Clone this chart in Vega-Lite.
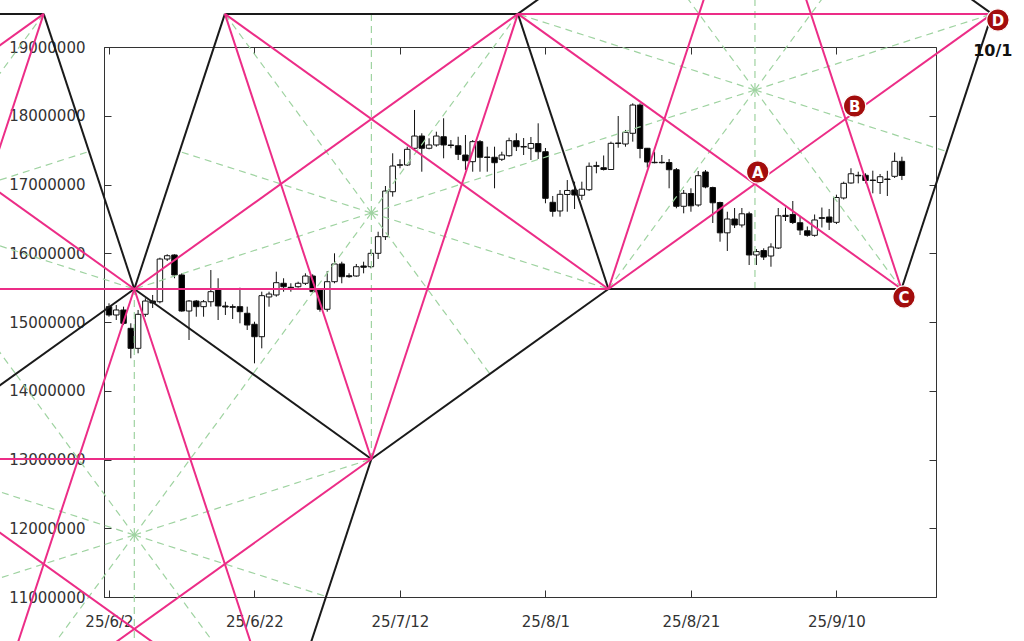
{
  "$schema": "https://vega.github.io/schema/vega-lite/v6.json",
  "width": 832,
  "height": 550,
  "autosize": "none",
  "padding": {"left": 104, "top": 47, "right": 88, "bottom": 44},
  "background": "white",
  "config": {
    "view": {"stroke": "#333333", "strokeWidth": 1},
    "axis": {"grid": false, "domainColor": "#333333", "tickColor": "#333333", "labelColor": "#333333", "labelFont": "DejaVu Sans", "labelFontSize": 15, "title": null}
  },
  "datasets": {
    "candles": [
      {"d":"2025-06-02","o":15223000,"h":15272000,"l":15077000,"c":15102000},
      {"d":"2025-06-03","o":15102000,"h":15247000,"l":15029000,"c":15175000},
      {"d":"2025-06-04","o":15175000,"h":15223000,"l":14956000,"c":14981000},
      {"d":"2025-06-05","o":14908000,"h":14981000,"l":14472000,"c":14617000},
      {"d":"2025-06-06","o":14617000,"h":15175000,"l":14545000,"c":15112000},
      {"d":"2025-06-07","o":15112000,"h":15345000,"l":15077000,"c":15305000},
      {"d":"2025-06-08","o":15305000,"h":15393000,"l":15204000,"c":15276000},
      {"d":"2025-06-09","o":15295000,"h":15935000,"l":15272000,"c":15916000},
      {"d":"2025-06-10","o":15916000,"h":15985000,"l":15887000,"c":15964000},
      {"d":"2025-06-11","o":15975000,"h":15985000,"l":15636000,"c":15684000},
      {"d":"2025-06-12","o":15684000,"h":15708000,"l":15150000,"c":15160000},
      {"d":"2025-06-13","o":15160000,"h":15320000,"l":14738000,"c":15305000},
      {"d":"2025-06-14","o":15305000,"h":15320000,"l":15077000,"c":15223000},
      {"d":"2025-06-15","o":15223000,"h":15320000,"l":15077000,"c":15295000},
      {"d":"2025-06-16","o":15295000,"h":15756000,"l":15223000,"c":15441000},
      {"d":"2025-06-17","o":15476000,"h":15636000,"l":15029000,"c":15233000},
      {"d":"2025-06-18","o":15233000,"h":15295000,"l":15102000,"c":15218000},
      {"d":"2025-06-19","o":15223000,"h":15257000,"l":15044000,"c":15214000},
      {"d":"2025-06-20","o":15223000,"h":15499000,"l":14981000,"c":15150000},
      {"d":"2025-06-21","o":15127000,"h":15223000,"l":14884000,"c":14956000},
      {"d":"2025-06-22","o":14967000,"h":15004000,"l":14399000,"c":14786000},
      {"d":"2025-06-23","o":14786000,"h":15441000,"l":14617000,"c":15383000},
      {"d":"2025-06-24","o":15364000,"h":15441000,"l":15223000,"c":15407000},
      {"d":"2025-06-25","o":15393000,"h":15732000,"l":15368000,"c":15572000},
      {"d":"2025-06-26","o":15563000,"h":15636000,"l":15441000,"c":15513000},
      {"d":"2025-06-27","o":15505000,"h":15563000,"l":15441000,"c":15495000},
      {"d":"2025-06-28","o":15513000,"h":15586000,"l":15499000,"c":15563000},
      {"d":"2025-06-29","o":15563000,"h":15708000,"l":15538000,"c":15669000},
      {"d":"2025-06-30","o":15669000,"h":15694000,"l":15426000,"c":15441000},
      {"d":"2025-07-01","o":15465000,"h":15490000,"l":15150000,"c":15185000},
      {"d":"2025-07-02","o":15185000,"h":15742000,"l":15150000,"c":15586000},
      {"d":"2025-07-03","o":15586000,"h":15999000,"l":15563000,"c":15844000},
      {"d":"2025-07-04","o":15844000,"h":15877000,"l":15563000,"c":15659000},
      {"d":"2025-07-05","o":15673000,"h":15708000,"l":15644000,"c":15659000},
      {"d":"2025-07-06","o":15669000,"h":15844000,"l":15659000,"c":15804000},
      {"d":"2025-07-07","o":15815000,"h":15877000,"l":15708000,"c":15796000},
      {"d":"2025-07-08","o":15804000,"h":16057000,"l":15781000,"c":15999000},
      {"d":"2025-07-09","o":15999000,"h":16313000,"l":15916000,"c":16241000},
      {"d":"2025-07-10","o":16241000,"h":16978000,"l":16193000,"c":16905000},
      {"d":"2025-07-11","o":16895000,"h":17454000,"l":16823000,"c":17269000},
      {"d":"2025-07-12","o":17279000,"h":17367000,"l":17236000,"c":17288000},
      {"d":"2025-07-13","o":17284000,"h":17550000,"l":17269000,"c":17512000},
      {"d":"2025-07-14","o":17527000,"h":18084000,"l":17512000,"c":17705000},
      {"d":"2025-07-15","o":17705000,"h":17745000,"l":17186000,"c":17527000},
      {"d":"2025-07-16","o":17527000,"h":17672000,"l":17512000,"c":17575000},
      {"d":"2025-07-17","o":17575000,"h":17768000,"l":17550000,"c":17705000},
      {"d":"2025-07-18","o":17695000,"h":17963000,"l":17381000,"c":17575000},
      {"d":"2025-07-19","o":17575000,"h":17647000,"l":17527000,"c":17567000},
      {"d":"2025-07-20","o":17564000,"h":17695000,"l":17356000,"c":17439000},
      {"d":"2025-07-21","o":17429000,"h":17720000,"l":17211000,"c":17346000},
      {"d":"2025-07-22","o":17332000,"h":17647000,"l":17186000,"c":17623000},
      {"d":"2025-07-23","o":17623000,"h":17647000,"l":17186000,"c":17396000},
      {"d":"2025-07-24","o":17400000,"h":17550000,"l":17186000,"c":17393000},
      {"d":"2025-07-25","o":17396000,"h":17550000,"l":16945000,"c":17317000},
      {"d":"2025-07-26","o":17367000,"h":17477000,"l":17342000,"c":17429000},
      {"d":"2025-07-27","o":17419000,"h":17681000,"l":17404000,"c":17637000},
      {"d":"2025-07-28","o":17637000,"h":17745000,"l":17487000,"c":17550000},
      {"d":"2025-07-29","o":17553000,"h":17676000,"l":17429000,"c":17545000},
      {"d":"2025-07-30","o":17527000,"h":17691000,"l":17356000,"c":17596000},
      {"d":"2025-07-31","o":17596000,"h":17890000,"l":17371000,"c":17477000},
      {"d":"2025-08-01","o":17477000,"h":17531000,"l":16727000,"c":16799000},
      {"d":"2025-08-02","o":16741000,"h":16833000,"l":16532000,"c":16610000},
      {"d":"2025-08-03","o":16615000,"h":16920000,"l":16532000,"c":16857000},
      {"d":"2025-08-04","o":16855000,"h":17065000,"l":16604000,"c":16913000},
      {"d":"2025-08-05","o":16920000,"h":17041000,"l":16644000,"c":16847000},
      {"d":"2025-08-06","o":16843000,"h":17041000,"l":16775000,"c":16932000},
      {"d":"2025-08-07","o":16924000,"h":17320000,"l":16905000,"c":17265000},
      {"d":"2025-08-08","o":17273000,"h":17332000,"l":17163000,"c":17265000},
      {"d":"2025-08-09","o":17244000,"h":17422000,"l":17204000,"c":17218000},
      {"d":"2025-08-10","o":17218000,"h":17623000,"l":17211000,"c":17599000},
      {"d":"2025-08-11","o":17604000,"h":17996000,"l":17535000,"c":17596000},
      {"d":"2025-08-12","o":17589000,"h":17793000,"l":17550000,"c":17759000},
      {"d":"2025-08-13","o":17745000,"h":18181000,"l":17623000,"c":18156000},
      {"d":"2025-08-14","o":18156000,"h":18181000,"l":17381000,"c":17524000},
      {"d":"2025-08-15","o":17527000,"h":17531000,"l":17247000,"c":17327000},
      {"d":"2025-08-16","o":17323000,"h":17477000,"l":17308000,"c":17317000},
      {"d":"2025-08-17","o":17323000,"h":17429000,"l":17305000,"c":17317000},
      {"d":"2025-08-18","o":17320000,"h":17371000,"l":16945000,"c":17215000},
      {"d":"2025-08-19","o":17215000,"h":17240000,"l":16654000,"c":16683000},
      {"d":"2025-08-20","o":16683000,"h":16920000,"l":16581000,"c":16872000},
      {"d":"2025-08-21","o":16869000,"h":16945000,"l":16604000,"c":16690000},
      {"d":"2025-08-22","o":16702000,"h":17196000,"l":16677000,"c":17128000},
      {"d":"2025-08-23","o":17182000,"h":17211000,"l":16945000,"c":16964000},
      {"d":"2025-08-24","o":16956000,"h":16968000,"l":16440000,"c":16734000},
      {"d":"2025-08-25","o":16738000,"h":16750000,"l":16168000,"c":16297000},
      {"d":"2025-08-26","o":16297000,"h":16604000,"l":16033000,"c":16498000},
      {"d":"2025-08-27","o":16498000,"h":16658000,"l":16367000,"c":16411000},
      {"d":"2025-08-28","o":16411000,"h":16658000,"l":16375000,"c":16574000},
      {"d":"2025-08-29","o":16574000,"h":16604000,"l":15829000,"c":15975000},
      {"d":"2025-08-30","o":15975000,"h":16062000,"l":15829000,"c":16025000},
      {"d":"2025-08-31","o":16040000,"h":16072000,"l":15902000,"c":15945000},
      {"d":"2025-09-01","o":15960000,"h":16145000,"l":15804000,"c":16091000},
      {"d":"2025-09-02","o":16076000,"h":16658000,"l":16062000,"c":16545000},
      {"d":"2025-09-03","o":16552000,"h":16665000,"l":16469000,"c":16535000},
      {"d":"2025-09-04","o":16564000,"h":16760000,"l":16425000,"c":16447000},
      {"d":"2025-09-05","o":16444000,"h":16532000,"l":16265000,"c":16338000},
      {"d":"2025-09-06","o":16327000,"h":16389000,"l":16241000,"c":16261000},
      {"d":"2025-09-07","o":16261000,"h":16564000,"l":16241000,"c":16484000},
      {"d":"2025-09-08","o":16517000,"h":16665000,"l":16375000,"c":16508000},
      {"d":"2025-09-09","o":16527000,"h":16644000,"l":16338000,"c":16452000},
      {"d":"2025-09-10","o":16450000,"h":16852000,"l":16425000,"c":16811000},
      {"d":"2025-09-11","o":16804000,"h":17041000,"l":16782000,"c":17017000},
      {"d":"2025-09-12","o":17022000,"h":17236000,"l":17012000,"c":17156000},
      {"d":"2025-09-13","o":17134000,"h":17186000,"l":17017000,"c":17127000},
      {"d":"2025-09-14","o":17134000,"h":17163000,"l":17017000,"c":17058000},
      {"d":"2025-09-15","o":17065000,"h":17201000,"l":16872000,"c":17058000},
      {"d":"2025-09-16","o":17029000,"h":17153000,"l":16862000,"c":17113000},
      {"d":"2025-09-17","o":17080000,"h":17199000,"l":16833000,"c":17073000},
      {"d":"2025-09-18","o":17119000,"h":17465000,"l":17095000,"c":17337000},
      {"d":"2025-09-19","o":17337000,"h":17404000,"l":17065000,"c":17131000}
    ],
    "segs": [
      {"k":"e","x1":"2025-04-13T17:46Z","y1":19481000,"x2":"2025-05-24T00:29Z","y2":19481000},
      {"k":"e","x1":"2025-05-24T00:29Z","y1":19481000,"x2":"2025-06-05T11:31Z","y2":15480000},
      {"k":"e","x1":"2025-06-05T11:31Z","y1":15480000,"x2":"2025-05-03T21:07Z","y2":13008000},
      {"k":"e","x1":"2025-05-03T21:07Z","y1":13008000,"x2":"2025-04-01T06:58Z","y2":15480000},
      {"k":"e","x1":"2025-04-01T06:58Z","y1":15480000,"x2":"2025-04-13T17:46Z","y2":19481000},
      {"k":"e","x1":"2025-06-17T22:19Z","y1":19481000,"x2":"2025-07-28T05:02Z","y2":19481000},
      {"k":"e","x1":"2025-07-28T05:02Z","y1":19481000,"x2":"2025-08-09T15:50Z","y2":15480000},
      {"k":"e","x1":"2025-08-09T15:50Z","y1":15480000,"x2":"2025-07-08T01:41Z","y2":13008000},
      {"k":"e","x1":"2025-07-08T01:41Z","y1":13008000,"x2":"2025-06-05T11:31Z","y2":15480000},
      {"k":"e","x1":"2025-06-05T11:31Z","y1":15480000,"x2":"2025-06-17T22:19Z","y2":19481000},
      {"k":"e","x1":"2025-08-29T19:12Z","y1":21953000,"x2":"2025-10-01T09:22Z","y2":19481000},
      {"k":"e","x1":"2025-10-01T09:22Z","y1":19481000,"x2":"2025-09-18T22:34Z","y2":15480000},
      {"k":"e","x1":"2025-09-18T22:34Z","y1":15480000,"x2":"2025-08-09T15:50Z","y2":15480000},
      {"k":"e","x1":"2025-07-28T05:02Z","y1":19481000,"x2":"2025-08-29T19:12Z","y2":21953000},
      {"k":"e","x1":"2025-07-08T01:41Z","y1":13008000,"x2":"2025-06-25T14:53Z","y2":9007000},
      {"k":"e","x1":"2025-06-25T14:53Z","y1":9007000,"x2":"2025-05-16T08:10Z","y2":9007000},
      {"k":"e","x1":"2025-05-16T08:10Z","y1":9007000,"x2":"2025-05-03T21:07Z","y2":13008000},

      {"k":"d","x1":"2025-04-13T17:46Z","y1":19481000,"x2":"2025-06-05T11:31Z","y2":15480000},
      {"k":"d","x1":"2025-04-13T17:46Z","y1":19481000,"x2":"2025-05-03T21:07Z","y2":13008000},
      {"k":"d","x1":"2025-05-24T00:29Z","y1":19481000,"x2":"2025-05-03T21:07Z","y2":13008000},
      {"k":"d","x1":"2025-05-24T00:29Z","y1":19481000,"x2":"2025-04-01T06:58Z","y2":15480000},
      {"k":"d","x1":"2025-04-01T06:58Z","y1":15480000,"x2":"2025-06-05T11:31Z","y2":15480000},
      {"k":"d","x1":"2025-06-17T22:19Z","y1":19481000,"x2":"2025-08-09T15:50Z","y2":15480000},
      {"k":"d","x1":"2025-06-17T22:19Z","y1":19481000,"x2":"2025-07-08T01:41Z","y2":13008000},
      {"k":"d","x1":"2025-07-28T05:02Z","y1":19481000,"x2":"2025-07-08T01:41Z","y2":13008000},
      {"k":"d","x1":"2025-07-28T05:02Z","y1":19481000,"x2":"2025-06-05T11:31Z","y2":15480000},
      {"k":"d","x1":"2025-06-05T11:31Z","y1":15480000,"x2":"2025-08-09T15:50Z","y2":15480000},
      {"k":"d","x1":"2025-08-29T19:12Z","y1":21953000,"x2":"2025-08-09T15:50Z","y2":15480000},
      {"k":"d","x1":"2025-08-29T19:12Z","y1":21953000,"x2":"2025-09-18T22:34Z","y2":15480000},
      {"k":"d","x1":"2025-07-28T05:02Z","y1":19481000,"x2":"2025-10-01T09:22Z","y2":19481000},
      {"k":"d","x1":"2025-07-28T05:02Z","y1":19481000,"x2":"2025-09-18T22:34Z","y2":15480000},
      {"k":"d","x1":"2025-10-01T09:22Z","y1":19481000,"x2":"2025-08-09T15:50Z","y2":15480000},
      {"k":"d","x1":"2025-06-05T11:31Z","y1":15480000,"x2":"2025-05-16T08:10Z","y2":9007000},
      {"k":"d","x1":"2025-06-05T11:31Z","y1":15480000,"x2":"2025-06-25T14:53Z","y2":9007000},
      {"k":"d","x1":"2025-05-03T21:07Z","y1":13008000,"x2":"2025-07-08T01:41Z","y2":13008000},
      {"k":"d","x1":"2025-05-03T21:07Z","y1":13008000,"x2":"2025-06-25T14:53Z","y2":9007000},
      {"k":"d","x1":"2025-07-08T01:41Z","y1":13008000,"x2":"2025-05-16T08:10Z","y2":9007000},

      {"k":"s","x1":"2025-05-03T21:07Z","y1":16586000,"x2":"2025-04-13T17:46Z","y2":19481000},
      {"k":"s","x1":"2025-05-03T21:07Z","y1":16586000,"x2":"2025-05-24T00:29Z","y2":19481000},
      {"k":"s","x1":"2025-05-03T21:07Z","y1":16586000,"x2":"2025-06-05T11:31Z","y2":15480000},
      {"k":"s","x1":"2025-05-03T21:07Z","y1":16586000,"x2":"2025-05-03T21:07Z","y2":13008000},
      {"k":"s","x1":"2025-05-03T21:07Z","y1":16586000,"x2":"2025-04-01T06:58Z","y2":15480000},
      {"k":"s","x1":"2025-05-03T21:07Z","y1":16586000,"x2":"2025-05-03T21:07Z","y2":19481000},
      {"k":"s","x1":"2025-05-03T21:07Z","y1":16586000,"x2":"2025-05-30T06:00Z","y2":17480500},
      {"k":"s","x1":"2025-05-03T21:07Z","y1":16586000,"x2":"2025-05-20T04:19Z","y2":14244000},
      {"k":"s","x1":"2025-05-03T21:07Z","y1":16586000,"x2":"2025-04-17T14:10Z","y2":14244000},
      {"k":"s","x1":"2025-05-03T21:07Z","y1":16586000,"x2":"2025-04-07T12:14Z","y2":17480500},
      {"k":"s","x1":"2025-07-08T01:41Z","y1":16586000,"x2":"2025-06-17T22:19Z","y2":19481000},
      {"k":"s","x1":"2025-07-08T01:41Z","y1":16586000,"x2":"2025-07-28T05:02Z","y2":19481000},
      {"k":"s","x1":"2025-07-08T01:41Z","y1":16586000,"x2":"2025-08-09T15:50Z","y2":15480000},
      {"k":"s","x1":"2025-07-08T01:41Z","y1":16586000,"x2":"2025-07-08T01:41Z","y2":13008000},
      {"k":"s","x1":"2025-07-08T01:41Z","y1":16586000,"x2":"2025-06-05T11:31Z","y2":15480000},
      {"k":"s","x1":"2025-07-08T01:41Z","y1":16586000,"x2":"2025-07-08T01:41Z","y2":19481000},
      {"k":"s","x1":"2025-07-08T01:41Z","y1":16586000,"x2":"2025-08-03T10:34Z","y2":17480500},
      {"k":"s","x1":"2025-07-08T01:41Z","y1":16586000,"x2":"2025-07-24T08:53Z","y2":14244000},
      {"k":"s","x1":"2025-07-08T01:41Z","y1":16586000,"x2":"2025-06-21T18:43Z","y2":14244000},
      {"k":"s","x1":"2025-07-08T01:41Z","y1":16586000,"x2":"2025-06-11T16:48Z","y2":17480500},
      {"k":"s","x1":"2025-08-29T19:12Z","y1":18375000,"x2":"2025-08-29T19:12Z","y2":21953000},
      {"k":"s","x1":"2025-08-29T19:12Z","y1":18375000,"x2":"2025-07-28T05:02Z","y2":19481000},
      {"k":"s","x1":"2025-08-29T19:12Z","y1":18375000,"x2":"2025-10-01T09:22Z","y2":19481000},
      {"k":"s","x1":"2025-08-29T19:12Z","y1":18375000,"x2":"2025-08-09T15:50Z","y2":15480000},
      {"k":"s","x1":"2025-08-29T19:12Z","y1":18375000,"x2":"2025-09-18T22:34Z","y2":15480000},
      {"k":"s","x1":"2025-08-29T19:12Z","y1":18375000,"x2":"2025-09-15T02:24Z","y2":20717000},
      {"k":"s","x1":"2025-08-29T19:12Z","y1":18375000,"x2":"2025-09-25T04:05Z","y2":17480500},
      {"k":"s","x1":"2025-08-29T19:12Z","y1":18375000,"x2":"2025-08-29T19:12Z","y2":15480000},
      {"k":"s","x1":"2025-08-29T19:12Z","y1":18375000,"x2":"2025-08-03T10:34Z","y2":17480500},
      {"k":"s","x1":"2025-08-29T19:12Z","y1":18375000,"x2":"2025-08-13T12:14Z","y2":20717000},
      {"k":"s","x1":"2025-06-05T11:31Z","y1":11902000,"x2":"2025-06-05T11:31Z","y2":15480000},
      {"k":"s","x1":"2025-06-05T11:31Z","y1":11902000,"x2":"2025-05-03T21:07Z","y2":13008000},
      {"k":"s","x1":"2025-06-05T11:31Z","y1":11902000,"x2":"2025-07-08T01:41Z","y2":13008000},
      {"k":"s","x1":"2025-06-05T11:31Z","y1":11902000,"x2":"2025-05-16T08:10Z","y2":9007000},
      {"k":"s","x1":"2025-06-05T11:31Z","y1":11902000,"x2":"2025-06-25T14:53Z","y2":9007000},
      {"k":"s","x1":"2025-06-05T11:31Z","y1":11902000,"x2":"2025-06-21T18:43Z","y2":14244000},
      {"k":"s","x1":"2025-06-05T11:31Z","y1":11902000,"x2":"2025-07-01T20:24Z","y2":11007500},
      {"k":"s","x1":"2025-06-05T11:31Z","y1":11902000,"x2":"2025-06-05T11:31Z","y2":9007000},
      {"k":"s","x1":"2025-06-05T11:31Z","y1":11902000,"x2":"2025-05-10T02:38Z","y2":11007500},
      {"k":"s","x1":"2025-06-05T11:31Z","y1":11902000,"x2":"2025-05-20T04:19Z","y2":14244000}
    ],
    "marks": [
      {"t":"A","x":"2025-08-30T04:19Z","y":17182000},
      {"t":"B","x":"2025-09-12T12:00Z","y":18142000},
      {"t":"C","x":"2025-09-19T06:58Z","y":15364000},
      {"t":"D","x":"2025-10-02T04:48Z","y":19393000}
    ],
    "labels": [
      {"t":"10/1","x":"2025-10-01T12:00Z","y":18942000}
    ]
  },
  "resolve": {"axis": {"x": "independent", "y": "independent"}},
  "layer": [
    {
      "data": {"name": "candles"},
      "mark": {"type": "rule", "color": "#111111", "strokeWidth": 1, "clip": true},
      "encoding": {
        "x": {"field": "d", "type": "temporal",
          "scale": {"type": "utc", "domain": [{"year":2025,"month":6,"date":2,"utc":true},{"year":2025,"month":9,"date":23,"utc":true}]},
          "axis": {"orient": "bottom", "format": "%y/%-m/%-d", "tickSize": -7, "labelPadding": 24, "labelOverlap": false, "labelFlush": false,
            "values": [{"year":2025,"month":6,"date":2,"utc":true},{"year":2025,"month":6,"date":22,"utc":true},{"year":2025,"month":7,"date":12,"utc":true},{"year":2025,"month":8,"date":1,"utc":true},{"year":2025,"month":8,"date":21,"utc":true},{"year":2025,"month":9,"date":10,"utc":true}]}},
        "y": {"field": "l", "type": "quantitative",
          "scale": {"domain": [11000000, 19000000], "nice": false, "zero": false},
          "axis": {"orient": "left", "format": "d", "tickSize": -7, "labelPadding": 26,
            "values": [11000000,12000000,13000000,14000000,15000000,16000000,17000000,18000000,19000000]}},
        "y2": {"field": "h"}
      }
    },
    {
      "data": {"name": "candles"},
      "mark": {"type": "bar", "width": 5.5, "stroke": "#111111", "strokeWidth": 1, "clip": true},
      "encoding": {
        "x": {"field": "d", "type": "temporal",
          "scale": {"type": "utc", "domain": [{"year":2025,"month":6,"date":2,"utc":true},{"year":2025,"month":9,"date":23,"utc":true}]},
          "axis": {"orient": "top", "labels": false, "domain": false, "tickSize": -7,
            "values": [{"year":2025,"month":6,"date":2,"utc":true},{"year":2025,"month":6,"date":22,"utc":true},{"year":2025,"month":7,"date":12,"utc":true},{"year":2025,"month":8,"date":1,"utc":true},{"year":2025,"month":8,"date":21,"utc":true},{"year":2025,"month":9,"date":10,"utc":true}]}},
        "y": {"field": "o", "type": "quantitative",
          "scale": {"domain": [11000000, 19000000], "nice": false, "zero": false},
          "axis": {"orient": "right", "labels": false, "domain": false, "tickSize": -7,
            "values": [11000000,12000000,13000000,14000000,15000000,16000000,17000000,18000000,19000000]}},
        "y2": {"field": "c"},
        "fill": {"condition": {"test": "datum.c >= datum.o", "value": "#ffffff"}, "value": "#000000"}
      }
    },
    {
      "data": {"name": "segs"},
      "transform": [{"filter": "datum.k == 's'"}],
      "mark": {"type": "rule", "color": "#9fd3a1", "strokeWidth": 1.2, "strokeDash": [7, 5], "clip": false},
      "encoding": {
        "x": {"field": "x1", "type": "temporal", "axis": null, "scale": {"type": "utc", "domain": [{"year":2025,"month":6,"date":2,"utc":true},{"year":2025,"month":9,"date":23,"utc":true}]}},
        "x2": {"field": "x2"},
        "y": {"field": "y1", "type": "quantitative", "axis": null, "scale": {"domain": [11000000, 19000000], "nice": false, "zero": false}},
        "y2": {"field": "y2"}
      }
    },
    {
      "data": {"name": "segs"},
      "transform": [{"filter": "datum.k == 'e'"}],
      "mark": {"type": "rule", "color": "#1a1a1a", "strokeWidth": 2, "clip": false},
      "encoding": {
        "x": {"field": "x1", "type": "temporal", "axis": null, "scale": {"type": "utc", "domain": [{"year":2025,"month":6,"date":2,"utc":true},{"year":2025,"month":9,"date":23,"utc":true}]}},
        "x2": {"field": "x2"},
        "y": {"field": "y1", "type": "quantitative", "axis": null, "scale": {"domain": [11000000, 19000000], "nice": false, "zero": false}},
        "y2": {"field": "y2"}
      }
    },
    {
      "data": {"name": "segs"},
      "transform": [{"filter": "datum.k == 'd'"}],
      "mark": {"type": "rule", "color": "#ec2d87", "strokeWidth": 2, "clip": false},
      "encoding": {
        "x": {"field": "x1", "type": "temporal", "axis": null, "scale": {"type": "utc", "domain": [{"year":2025,"month":6,"date":2,"utc":true},{"year":2025,"month":9,"date":23,"utc":true}]}},
        "x2": {"field": "x2"},
        "y": {"field": "y1", "type": "quantitative", "axis": null, "scale": {"domain": [11000000, 19000000], "nice": false, "zero": false}},
        "y2": {"field": "y2"}
      }
    },
    {
      "data": {"name": "marks"},
      "mark": {"type": "circle", "size": 500, "color": "#a30d0d", "opacity": 1, "stroke": "#ffffff", "strokeWidth": 1.2, "clip": false},
      "encoding": {
        "x": {"field": "x", "type": "temporal", "axis": null, "scale": {"type": "utc", "domain": [{"year":2025,"month":6,"date":2,"utc":true},{"year":2025,"month":9,"date":23,"utc":true}]}},
        "y": {"field": "y", "type": "quantitative", "axis": null, "scale": {"domain": [11000000, 19000000], "nice": false, "zero": false}}
      }
    },
    {
      "data": {"name": "marks"},
      "mark": {"type": "text", "color": "#ffffff", "font": "DejaVu Sans", "fontWeight": "bold", "fontSize": 15, "align": "center", "baseline": "middle", "dy": 1, "clip": false},
      "encoding": {
        "x": {"field": "x", "type": "temporal", "axis": null, "scale": {"type": "utc", "domain": [{"year":2025,"month":6,"date":2,"utc":true},{"year":2025,"month":9,"date":23,"utc":true}]}},
        "y": {"field": "y", "type": "quantitative", "axis": null, "scale": {"domain": [11000000, 19000000], "nice": false, "zero": false}},
        "text": {"field": "t"}
      }
    },
    {
      "data": {"name": "labels"},
      "mark": {"type": "text", "color": "#111111", "font": "DejaVu Sans", "fontWeight": "bold", "fontSize": 16, "align": "center", "baseline": "middle", "clip": false},
      "encoding": {
        "x": {"field": "x", "type": "temporal", "axis": null, "scale": {"type": "utc", "domain": [{"year":2025,"month":6,"date":2,"utc":true},{"year":2025,"month":9,"date":23,"utc":true}]}},
        "y": {"field": "y", "type": "quantitative", "axis": null, "scale": {"domain": [11000000, 19000000], "nice": false, "zero": false}},
        "text": {"field": "t"}
      }
    }
  ]
}
